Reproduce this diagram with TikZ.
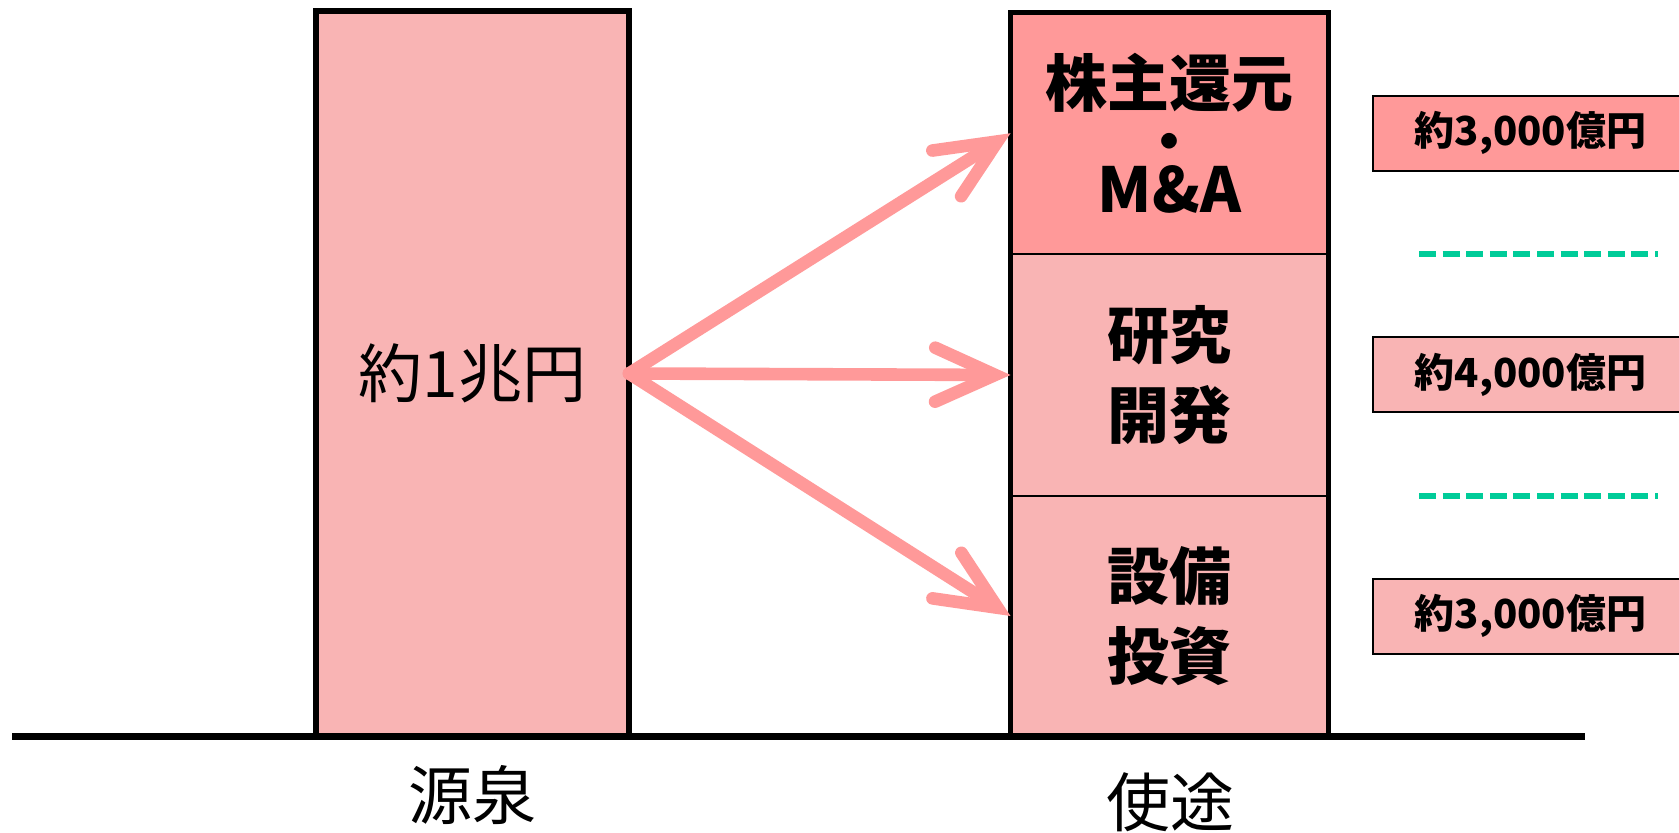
\documentclass[tikz,border=0pt]{standalone}
\usepackage{fontspec}
\setmainfont{Noto Sans CJK JP}
\usepackage{xcolor}
\usetikzlibrary{positioning,arrows.meta}

\definecolor{pinklight}{HTML}{F9B4B4}
\definecolor{pinkdeep}{HTML}{FF9999}
\definecolor{dashgreen}{HTML}{00CC99}

\begin{document}
\begin{tikzpicture}[
  x=0.5pt, y=-0.5pt,
  node distance=0pt and 22pt,
  srcbar/.style={rectangle, draw, line width=2.8pt, fill=pinklight, inner sep=0pt, outer sep=0pt, minimum width=156.5pt, minimum height=362.5pt, font=\fontsize{32}{38}\selectfont},
  usecell/.style={rectangle, draw, line width=1pt, inner sep=0pt, outer sep=0pt, minimum width=159pt, align=center, font=\bfseries\fontsize{31}{40}\selectfont},
  amount/.style={rectangle, draw, line width=1pt, inner sep=0pt, outer sep=0pt, minimum width=158pt, minimum height=37.5pt, font=\bfseries\fontsize{20}{24}\selectfont},
  axislabel/.style={font=\fontsize{32}{38}\selectfont},
  flow/.style={-{Straight Barb[length=30pt,width=27pt,line cap=round]}, line width=6.3pt, draw=pinkdeep, line cap=round},
  guide/.style={draw=dashgreen, line width=3pt, dash pattern=on 8.5pt off 3.3pt}
]
  \useasboundingbox (0,0) rectangle (1679,833);

  % Source and uses
  \node[srcbar] (src) at (472.5,373.5) {約1兆円};
  \node[usecell, fill=pinkdeep, minimum height=120.75pt, font=\bfseries\fontsize{31}{25}\selectfont] (shr) at (1169.5,133.25) {株主還元\\[3pt]{\fontsize{28}{25}\selectfont ・}\\M\&A};
  \node[usecell, fill=pinklight, minimum height=121pt, below=of shr] (rnd) {研究\\開発};
  \node[usecell, fill=pinklight, minimum height=120pt, below=of rnd] (capex) {設備\\投資};
  \draw[line width=2.8pt] (shr.north west) rectangle (capex.south east);

  % Amounts
  \node[amount, fill=pinkdeep, right=of shr] (amtshr) {約3,000億円};
  \node[amount, fill=pinklight, right=of rnd] (amtrnd) {約4,000億円};
  \node[amount, fill=pinklight, right=of capex] (amtcapex) {約3,000億円};

  % Separators
  \coordinate (sep1a) at (1419,254);
  \coordinate (sep1b) at (1658,254);
  \coordinate (sep2a) at (1419,496);
  \coordinate (sep2b) at (1658,496);
  \draw[guide] (sep1a) -- (sep1b);
  \draw[guide] (sep2a) -- (sep2b);

  % Ground
  \coordinate (gndl) at (12,736.5);
  \coordinate (gndr) at (1585,736.5);
  \draw[line width=3.5pt] (gndl) -- (gndr);

  % Flows
  \draw[flow] (src.east) -- (shr.west);
  \draw[flow] (src.east) -- (rnd.west);
  \draw[flow] (src.east) -- (capex.west);

  % Labels
  \node[axislabel] (srclab) at (472.5,795) {源泉};
  \node[axislabel] (uselab) at (1170,802) {使途};
\end{tikzpicture}
\end{document}
